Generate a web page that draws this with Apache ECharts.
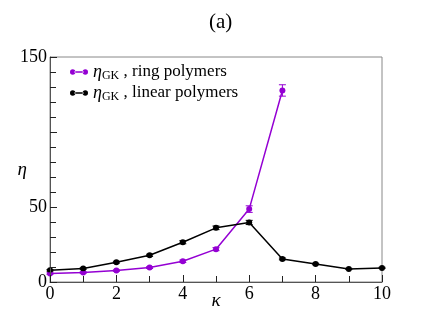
<!DOCTYPE html>
<html>
<head>
<meta charset="utf-8">
<script src="https://cdn.jsdelivr.net/npm/echarts@6/dist/echarts.min.js"></script>
<style>
  html, body { margin: 0; padding: 0; background: #fff; }
  #chart { width: 443px; height: 332px; }
</style>
</head>
<body>
<div id="chart"></div>
<script>
// kappa values
const kappaRing = [0, 1, 2, 3, 4, 5, 6, 7]
const kappaLinear = [0, 1, 2, 3, 4, 5, 6, 7, 8, 9, 10]
// eta_GK, ring polymers
const etaRing = [5.6, 6.3, 7.6, 9.6, 13.8, 21.9, 48.6, 127.7]
const errRing = [0.5, 0.5, 0.5, 0.6, 0.8, 1.0, 2.2, 3.8]
// eta_GK, linear polymers
const etaLinear = [7.8, 9.0, 13.2, 17.8, 26.5, 36.1, 39.7, 15.4, 12.0, 8.7, 9.4]
const errLinear = [0.5, 0.5, 0.6, 0.7, 1.0, 1.2, 1.4, 0.6, 0.5, 0.4, 0.4]
// y tick labels shown in the original (100 is left blank there)
const yTickLabels = { 0: '0', 50: '50', 100: '', 150: '150' }

const purple = '#9400d3'
const black = '#000000'
const serif = 'Liberation Serif'

const pairs = (xs, ys) => xs.map((x, i) => [x, ys[i]])
const errData = (xs, ys, es) => xs.map((x, i) => [x, ys[i] - es[i], ys[i] + es[i]])

// error bars drawn with a custom series
function errorBars(color) {
  return function (params, api) {
    const lo = api.coord([api.value(0), api.value(1)])
    const hi = api.coord([api.value(0), api.value(2)])
    const w = 3.5
    const style = { stroke: color, lineWidth: 1 }
    return {
      type: 'group',
      children: [
        { type: 'line', shape: { x1: lo[0], y1: lo[1], x2: hi[0], y2: hi[1] }, style },
        { type: 'line', shape: { x1: lo[0] - w, y1: lo[1], x2: lo[0] + w, y2: lo[1] }, style },
        { type: 'line', shape: { x1: hi[0] - w, y1: hi[1], x2: hi[0] + w, y2: hi[1] }, style }
      ]
    }
  }
}

const legendIcon = 'path://M0,3a3,3 0 1,0 6,0a3,3 0 1,0 -6,0M5,2.3h10v1.4h-10zM14,3a3,3 0 1,0 6,0a3,3 0 1,0 -6,0'

const tickStyle = { color: '#222', width: 1 }

const chart = echarts.init(document.getElementById('chart'))
chart.setOption({
  animation: false,
  backgroundColor: '#fff',
  title: {
    text: '(a)',
    left: 204,
    top: 7,
    textStyle: { fontFamily: serif, fontSize: 21, fontWeight: 'normal', color: '#000' }
  },
  grid: {
    left: 50, right: 61, top: 57, bottom: 50,
    show: true,
    borderColor: '#888',
    borderWidth: 1,
    z: 0
  },
  legend: {
    orient: 'vertical',
    left: 70,
    top: 63,
    padding: 0,
    itemGap: 2,
    itemWidth: 18,
    itemHeight: 6,
    data: [
      { name: 'ring', icon: legendIcon },
      { name: 'linear', icon: legendIcon }
    ],
    formatter: (name) => name === 'ring'
      ? '{i|η}{s|GK} , ring polymers'
      : '{i|η}{s|GK} , linear polymers',
    textStyle: {
      fontFamily: serif,
      fontSize: 17,
      color: '#000',
      rich: {
        i: { fontFamily: serif, fontStyle: 'italic', fontSize: 18, color: '#000' },
        s: { fontFamily: serif, fontSize: 12, color: '#000', padding: [8, 0, 0, 0] }
      }
    }
  },
  xAxis: {
    type: 'value',
    min: 0, max: 10, interval: 2,
    name: 'κ',
    nameLocation: 'middle',
    nameGap: 9,
    nameMoveOverlap: false,
    z: 5,
    nameTextStyle: { fontFamily: serif, fontStyle: 'italic', fontSize: 19, color: '#000' },
    axisLine: { show: true, onZero: false, lineStyle: { color: '#555', width: 1 } },
    axisTick: { show: true, inside: true, length: 7, lineStyle: tickStyle },
    minorTick: { show: true, splitNumber: 2, length: 6, lineStyle: tickStyle },
    axisLabel: { fontFamily: serif, fontSize: 18, color: '#000', margin: 3 },
    splitLine: { show: false }
  },
  yAxis: {
    type: 'value',
    min: 0, max: 150, interval: 50,
    name: 'η',
    nameLocation: 'middle',
    nameGap: 23,
    nameRotate: 0,
    nameMoveOverlap: false,
    z: 5,
    nameTextStyle: { fontFamily: serif, fontStyle: 'italic', fontSize: 19, color: '#000' },
    axisLine: { show: true, onZero: false, lineStyle: { color: '#555', width: 1 } },
    axisTick: { show: true, inside: true, length: 7, lineStyle: tickStyle },
    minorTick: { show: true, splitNumber: 5, length: 6, lineStyle: tickStyle },
    axisLabel: {
      fontFamily: serif, fontSize: 18, color: '#000', margin: 3,
      formatter: (v) => yTickLabels[v]
    },
    splitLine: { show: false }
  },
  series: [
    {
      name: 'ring',
      type: 'line',
      data: pairs(kappaRing, etaRing),
      color: purple,
      symbol: 'circle',
      symbolSize: 6,
      lineStyle: { color: purple, width: 1.5 },
      itemStyle: { color: purple },
      z: 3
    },
    {
      name: 'linear',
      type: 'line',
      data: pairs(kappaLinear, etaLinear),
      color: black,
      symbol: 'circle',
      symbolSize: 6,
      lineStyle: { color: black, width: 1.5 },
      itemStyle: { color: black },
      z: 3
    },
    {
      type: 'custom',
      renderItem: errorBars(purple),
      data: errData(kappaRing, etaRing, errRing),
      encode: { x: 0, y: [1, 2] },
      z: 4
    },
    {
      type: 'custom',
      renderItem: errorBars(black),
      data: errData(kappaLinear, etaLinear, errLinear),
      encode: { x: 0, y: [1, 2] },
      z: 4
    }
  ]
})
</script>
</body>
</html>
